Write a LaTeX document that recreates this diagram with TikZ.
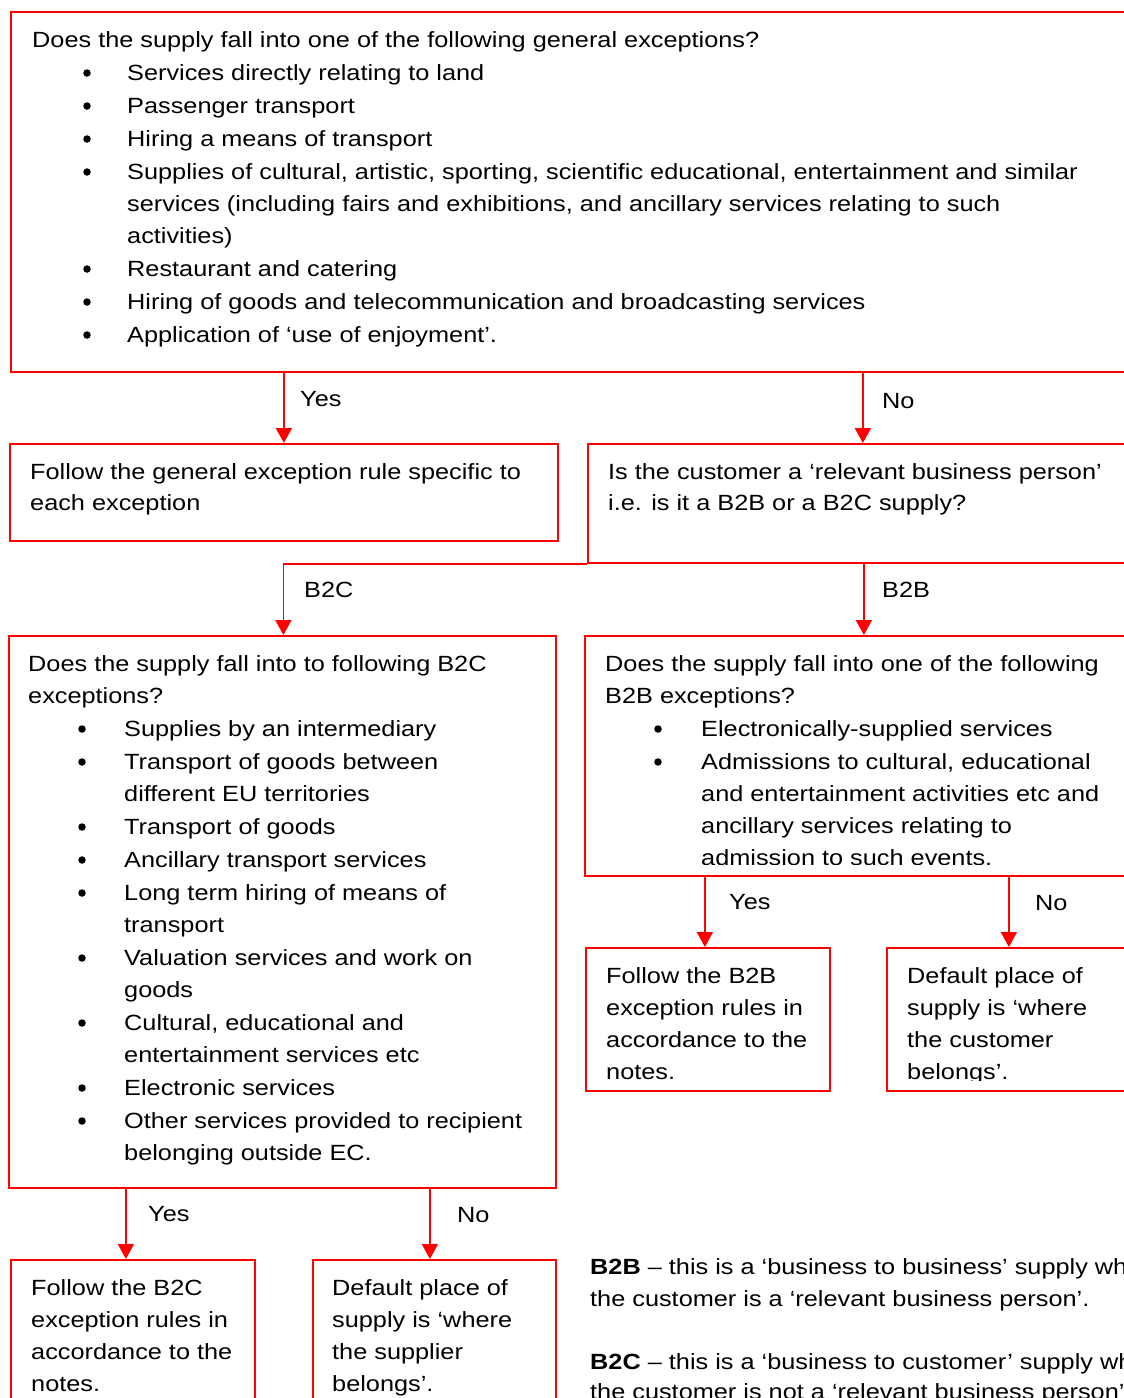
\documentclass[tikz,border=0pt]{standalone}
\usepackage{fontspec}
\setmainfont{Liberation Sans}[FakeStretch=1.15]
\usetikzlibrary{arrows.meta}
\begin{document}
\begin{tikzpicture}[x=1pt,y=-1pt,
  box/.style={draw=red, line width=1.8pt, rectangle, inner sep=0pt, anchor=north west},
  arr/.style={draw=red, line width=1.8pt, -{Triangle[width=16pt,length=15pt]}},
  ln/.style={draw=red, line width=1.8pt},
  txt/.style={anchor=base west, inner sep=0pt, font=\fontsize{22}{26}\selectfont},
  bul/.style={fill=black, circle, inner sep=0pt, minimum size=7.5pt}]
\useasboundingbox (0,0) rectangle (1124,1398);
\clip (0,0) rectangle (1124,1398);
\fill[white] (0,0) rectangle (1124,1398);

% boxes
\node[box, minimum width=1130pt, minimum height=360pt] (A) at (10,11) {};
\node[box, minimum width=548pt, minimum height=97pt] (B) at (9,443) {};
\node[box, minimum width=550pt, minimum height=119pt] (C) at (587,443) {};
\node[box, minimum width=547pt, minimum height=552pt] (D) at (8,635) {};
\node[box, minimum width=558pt, minimum height=240pt] (E) at (584,635) {};
\node[box, minimum width=244pt, minimum height=143pt] (F) at (585,947) {};
\node[box, minimum width=250pt, minimum height=143pt] (G) at (886,947) {};
\node[box, minimum width=244pt, minimum height=160pt] (H) at (10,1259) {};
\node[box, minimum width=243pt, minimum height=160pt] (I) at (312,1259) {};

% connectors
\draw[arr] (B.north |- A.south) -- (B.north);
\draw[arr] (C.north |- A.south) -- (C.north);
\draw[ln] (C.south west) -- ([xshift=1pt]D.north |- C.south);
\draw[arr] ([xshift=1pt]D.north |- C.south) -- ([xshift=1pt]D.north);
\draw[arr] (E.north |- C.south) -- (E.north);
\draw[arr] ([xshift=-3pt]F.north |- E.south) -- ([xshift=-3pt]F.north);
\draw[arr] ([xshift=-3pt]G.north |- E.south) -- ([xshift=-3pt]G.north);
\draw[arr] ([xshift=-7pt]H.north |- D.south) -- ([xshift=-7pt]H.north);
\draw[arr] ([xshift=-4.5pt]I.north |- D.south) -- ([xshift=-4.5pt]I.north);

% labels
\node[txt] (lY1) at (300,406) {Yes};
\node[txt] (lN1) at (882,408) {No};
\node[txt] (lC) at (304,597) {B2C};
\node[txt] (lB) at (882,597) {B2B};
\node[txt] (lY2) at (729,909) {Yes};
\node[txt] (lN2) at (1035,910) {No};
\node[txt] (lY3) at (148,1221) {Yes};
\node[txt] (lN3) at (457,1222) {No};

% box A text
\node[txt] (a0) at (32,47) {Does the supply fall into one of the following general exceptions?};
\node[bul] (ab1) at (87,73) {};
\node[txt] (a1) at (127,80) {Services directly relating to land};
\node[bul] (ab2) at (87,106) {};
\node[txt] (a2) at (127,113) {Passenger transport};
\node[bul] (ab3) at (87,139) {};
\node[txt] (a3) at (127,146) {Hiring a means of transport};
\node[bul] (ab4) at (87,172) {};
\node[txt] (a4) at (127,179) {Supplies of cultural, artistic, sporting, scientific educational, entertainment and similar};
\node[txt] (a5) at (127,211) {services (including fairs and exhibitions, and ancillary services relating to such};
\node[txt] (a6) at (127,243) {activities)};
\node[bul] (ab5) at (87,269) {};
\node[txt] (a7) at (127,276) {Restaurant and catering};
\node[bul] (ab6) at (87,302) {};
\node[txt] (a8) at (127,309) {Hiring of goods and telecommunication and broadcasting services};
\node[bul] (ab7) at (87,335) {};
\node[txt] (a9) at (127,342) {Application of ‘use of enjoyment’.};

% box B text
\node[txt] (b1) at (30,479) {Follow the general exception rule specific to};
\node[txt] (b2) at (30,510) {each exception};

% box C text
\node[txt] (c1) at (608,479) {Is the customer a ‘relevant business person’};
\node[txt] (c2) at (608,510) {i.e. is it a B2B or a B2C supply?};

% box D text
\node[txt] (d0) at (28,671) {Does the supply fall into to following B2C};
\node[txt] (d00) at (28,703) {exceptions?};
\node[bul] (db1) at (82,729) {};
\node[txt] (d1) at (124,736) {Supplies by an intermediary};
\node[bul] (db2) at (82,762) {};
\node[txt] (d2) at (124,769) {Transport of goods between};
\node[txt] (d3) at (124,801) {different EU territories};
\node[bul] (db3) at (82,827) {};
\node[txt] (d4) at (124,834) {Transport of goods};
\node[bul] (db4) at (82,860) {};
\node[txt] (d5) at (124,867) {Ancillary transport services};
\node[bul] (db5) at (82,893) {};
\node[txt] (d6) at (124,900) {Long term hiring of means of};
\node[txt] (d7) at (124,932) {transport};
\node[bul] (db6) at (82,958) {};
\node[txt] (d8) at (124,965) {Valuation services and work on};
\node[txt] (d9) at (124,997) {goods};
\node[bul] (db7) at (82,1023) {};
\node[txt] (d10) at (124,1030) {Cultural, educational and};
\node[txt] (d11) at (124,1062) {entertainment services etc};
\node[bul] (db8) at (82,1088) {};
\node[txt] (d12) at (124,1095) {Electronic services};
\node[bul] (db9) at (82,1121) {};
\node[txt] (d13) at (124,1128) {Other services provided to recipient};
\node[txt] (d14) at (124,1160) {belonging outside EC.};

% box E text
\begin{scope}
\clip (584,635) rectangle (1144,864);
\node[txt] (e0) at (605,671) {Does the supply fall into one of the following};
\node[txt] (e00) at (605,703) {B2B exceptions?};
\node[bul] (eb1) at (658,729) {};
\node[txt] (e1) at (701,736) {Electronically-supplied services};
\node[bul] (eb2) at (658,762) {};
\node[txt] (e2) at (701,769) {Admissions to cultural, educational};
\node[txt] (e3) at (701,801) {and entertainment activities etc and};
\node[txt] (e4) at (701,833) {ancillary services relating to};
\node[txt] (e5) at (701,865) {admission to such events.};
\end{scope}

% boxes F and G text
\begin{scope}
\clip (585,947) rectangle (1144,1080);
\node[txt] (f1) at (606,983) {Follow the B2B};
\node[txt] (f2) at (606,1015) {exception rules in};
\node[txt] (f3) at (606,1047) {accordance to the};
\node[txt] (f4) at (606,1079) {notes.};
\node[txt] (g1) at (907,983) {Default place of};
\node[txt] (g2) at (907,1015) {supply is ‘where};
\node[txt] (g3) at (907,1047) {the customer};
\node[txt] (g4) at (907,1079) {belongs’.};
\end{scope}

% boxes H and I text
\node[txt] (h1) at (31,1295) {Follow the B2C};
\node[txt] (h2) at (31,1327) {exception rules in};
\node[txt] (h3) at (31,1359) {accordance to the};
\node[txt] (h4) at (31,1391) {notes.};
\node[txt] (i1) at (332,1295) {Default place of};
\node[txt] (i2) at (332,1327) {supply is ‘where};
\node[txt] (i3) at (332,1359) {the supplier};
\node[txt] (i4) at (332,1391) {belongs’.};

% notes
\node[txt] (n1) at (590,1274) {\bfseries B2B\mdseries{} – this is a ‘business to business’ supply where};
\node[txt] (n2) at (590,1306) {the customer is a ‘relevant business person’.};
\node[txt] (n3) at (590,1369) {\bfseries B2C\mdseries{} – this is a ‘business to customer’ supply where};
\node[txt] (n4) at (590,1399) {the customer is not a ‘relevant business person’.};
\end{tikzpicture}
\end{document}
